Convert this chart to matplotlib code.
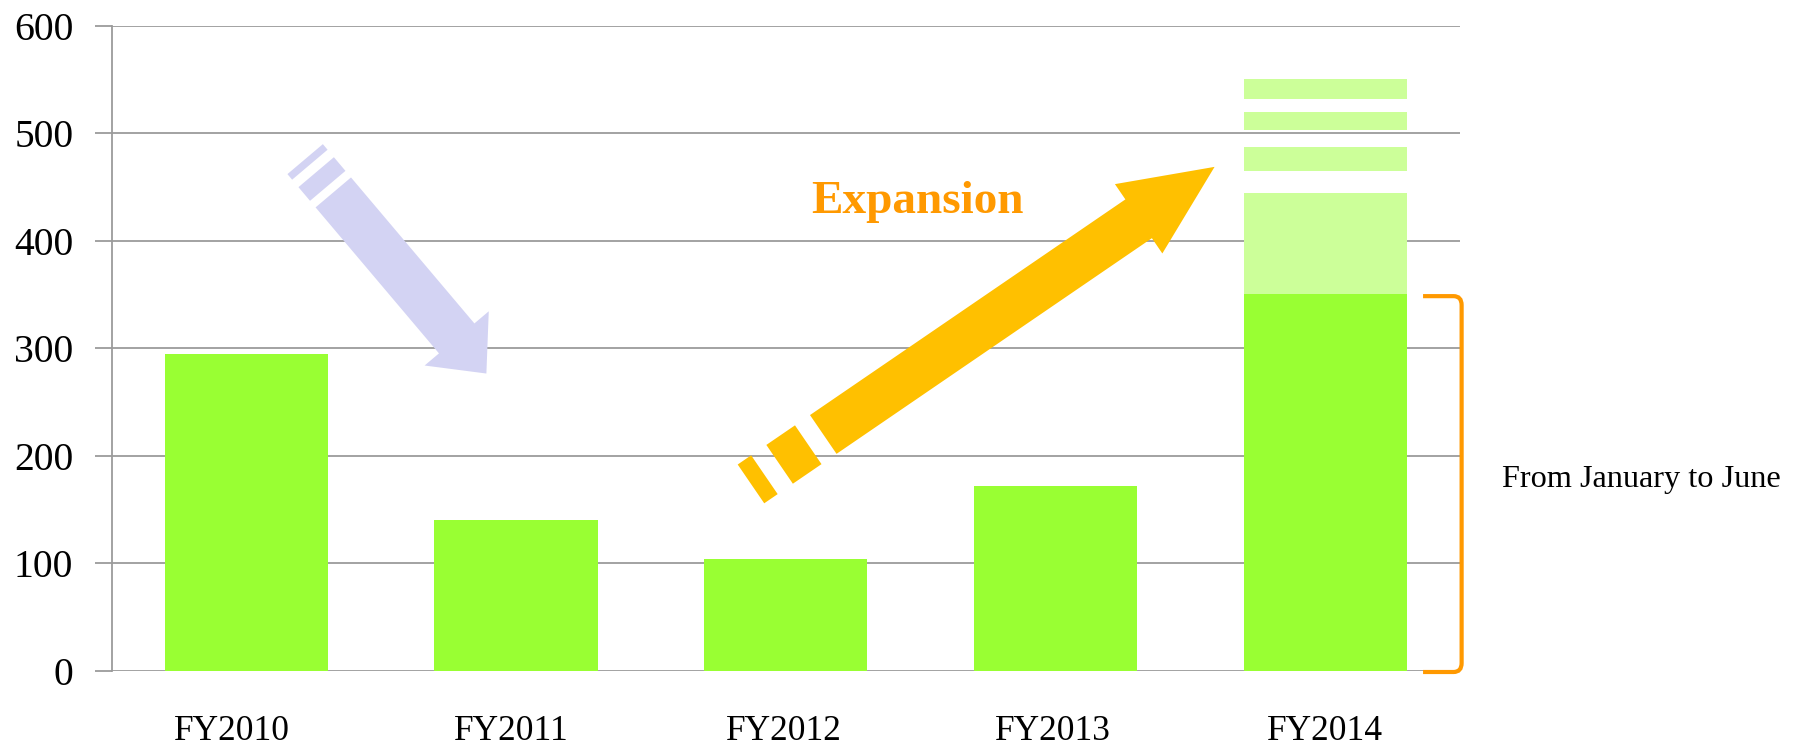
import numpy as np
import matplotlib
matplotlib.use("Agg")
import matplotlib.pyplot as plt
from matplotlib.patches import Polygon, PathPatch
from matplotlib.path import Path
from matplotlib.transforms import ScaledTranslation

# ---------------- data ----------------
categories = ["FY2010", "FY2011", "FY2012", "FY2013", "FY2014"]
values = [295, 140, 104, 172, 350]          # Jan-Jun (solid green)
# FY2014 projected part (light green segments): bottoms and tops
fy2014_proj_bottoms = [350, 465, 503, 532]
fy2014_proj_tops = [444, 487, 520, 550]
yticks = [0, 100, 200, 300, 400, 500, 600]

bar_color = "#99FF33"
proj_color = "#CCFF99"
grid_color = "#9B9B9B"
serif = ["Liberation Serif", "DejaVu Serif"]

W, H, DPI = 1798, 747, 100
fig = plt.figure(figsize=(W / DPI, H / DPI), dpi=DPI)
fig.patch.set_facecolor("white")
left, right, bottom, top = 111.5, 1460, 671, 25.5
ax = fig.add_axes([left / W, 1 - bottom / H, (right - left) / W, (bottom - top) / H])

x = np.arange(len(categories))
ax.bar(x, values, width=0.605, color=bar_color, zorder=3)
heights = [t - b for b, t in zip(fy2014_proj_bottoms, fy2014_proj_tops)]
ax.bar([x[-1]] * len(heights), heights, bottom=fy2014_proj_bottoms, width=0.605,
       color=proj_color, zorder=3)

ax.set_xlim(-0.5, len(categories) - 0.5)
ax.set_ylim(0, 600)
ax.set_yticks(yticks)
ax.set_yticklabels([str(v) for v in yticks], fontfamily=serif, fontsize=28.5)
ax.set_xticks(x)
ax.set_xticklabels(categories, fontfamily=serif, fontsize=25.5)
ax.tick_params(axis="y", length=12.5, width=1.3, color=grid_color, pad=15)
ax.tick_params(axis="x", length=0, pad=32)
ax.yaxis.grid(True, color=grid_color, linewidth=1.3, zorder=0)
ax.set_axisbelow(True)
for s in ["top", "right", "bottom"]:
    ax.spines[s].set_visible(False)
ax.spines["left"].set_color(grid_color)
ax.spines["left"].set_linewidth(1.3)

# slight horizontal offsets of the category labels (pixels), as in the original
label_shift_px = [-14, -5, -2, -3, 0]
for lab, dx in zip(ax.get_xticklabels(), label_shift_px):
    lab.set_transform(lab.get_transform() + ScaledTranslation(dx / DPI, 0, fig.dpi_scale_trans))

fig.canvas.draw()
to_px = ax.transData.transform
to_data = ax.transData.inverted().transform


def striped_arrow(start, end, segs, shaft_w, head_w, head_len, color):
    p0 = to_px(start)
    p1 = to_px(end)
    L = np.hypot(*(p1 - p0))
    d = (p1 - p0) / L
    n = np.array([-d[1], d[0]])

    def pt(a, w):
        return p0 + d * a + n * w

    pos = 0.0
    for kind, length in segs:
        if kind == "bar":
            poly = [pt(pos, -shaft_w / 2), pt(pos + length, -shaft_w / 2),
                    pt(pos + length, shaft_w / 2), pt(pos, shaft_w / 2)]
            ax.add_patch(Polygon(to_data(np.array(poly)), closed=True, facecolor=color,
                                 edgecolor="none", zorder=5, clip_on=False))
        pos += length
    hb = L - head_len
    poly = [pt(pos, -shaft_w / 2), pt(hb, -shaft_w / 2), pt(hb, -head_w / 2), pt(L, 0),
            pt(hb, head_w / 2), pt(hb, shaft_w / 2), pt(pos, shaft_w / 2)]
    ax.add_patch(Polygon(to_data(np.array(poly)), closed=True, facecolor=color,
                         edgecolor="none", zorder=5, clip_on=False))


# downward (lavender) arrow
striped_arrow((0.218, 475.8), (0.890, 276.5),
              [("bar", 7.3), ("gap", 9.8), ("bar", 17.9), ("gap", 8.6)],
              46.4, 84, 46, "#D3D3F3")
# upward (gold) arrow
striped_arrow((1.871, 173.9), (3.590, 468.6),
              [("bar", 16.3), ("gap", 18.4), ("bar", 34.7), ("gap", 18.2)],
              47, 84, 92, "#FFC000")

ax.text(2.487, 425.9, "Expansion", fontfamily=serif, fontsize=34, fontweight="bold",
        color="#FF9900", ha="center", va="baseline", zorder=6)

# bracket for FY2014 Jan-Jun
bx_l, bx_r = to_px((4.363, 0))[0], to_px((4.506, 0))[0]
by_t, by_b = to_px((0, 347.5))[1], to_px((0, 0))[1]
r = 8
verts = [(bx_l, by_t + 1), (bx_r - r, by_t + 1), (bx_r, by_t + 1), (bx_r, by_t - r),
         (bx_r, by_b + r), (bx_r, by_b - 1), (bx_r - r, by_b - 1), (bx_l, by_b - 1)]
codes = [Path.MOVETO, Path.LINETO, Path.CURVE3, Path.CURVE3,
         Path.LINETO, Path.CURVE3, Path.CURVE3, Path.LINETO]
path = Path(to_data(np.array(verts)), codes)
ax.add_patch(PathPatch(path, facecolor="none", edgecolor="#FF9900", linewidth=3.0,
                       capstyle="butt", zorder=6, clip_on=False))

ax.text(4.655, 171.2, "From January to June", fontfamily=serif, fontsize=23.2,
        color="black", ha="left", va="baseline", clip_on=False)

fig.savefig("out.png", dpi=DPI, facecolor="white")
